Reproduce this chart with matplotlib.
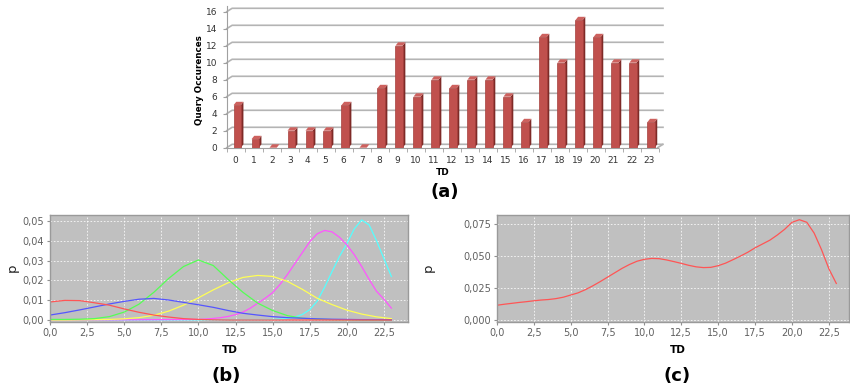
import matplotlib
matplotlib.use("Agg")
import matplotlib.pyplot as plt
import numpy as np
from matplotlib.ticker import FuncFormatter, MultipleLocator

# ---------------- data ----------------
# (a) query occurrences per TD
td_cats = list(range(24))
occurrences = [5, 1, 0, 2, 2, 2, 5, 0, 7, 12, 6, 8, 7, 8, 8, 6, 3, 13, 10, 15, 13, 10, 10, 3]

# (b) component densities
td_int = list(range(24))
red_p = [0.0091, 0.0099, 0.0098, 0.0087, 0.0075, 0.0056, 0.0039, 0.0025, 0.0015, 0.0007,
         0.0003, 0.0001, 0.0, 0.0, 0.0, 0.0, 0.0, 0.0, 0.0, 0.0, 0.0, 0.0, 0.0, 0.0]
blue_p = [0.0025, 0.0037, 0.0051, 0.0066, 0.0081, 0.0094, 0.0105, 0.0109, 0.0101, 0.0089,
          0.0077, 0.0064, 0.0048, 0.0034, 0.0025, 0.0017, 0.0012, 0.0009, 0.0006, 0.0004,
          0.0003, 0.0002, 0.0002, 0.0001]
green_p = [0.0003, 0.0003, 0.0004, 0.0007, 0.0017, 0.0040, 0.0080, 0.0140, 0.0210, 0.0270,
           0.0303, 0.0275, 0.0205, 0.0140, 0.0085, 0.0048, 0.0022, 0.0009, 0.0004, 0.0002,
           0.0001, 0.0, 0.0, 0.0]
yellow_p = [0.0, 0.0, 0.0001, 0.0002, 0.0003, 0.0006, 0.0012, 0.0024, 0.0045, 0.0075,
            0.0112, 0.0152, 0.0188, 0.0215, 0.0225, 0.0220, 0.0195, 0.0155, 0.0110, 0.0078,
            0.0050, 0.0030, 0.0016, 0.0007]
td_magenta = [0, 5, 10, 10.5, 11, 11.5, 12, 12.5, 13, 13.5, 14, 14.5, 15, 15.5, 16, 16.5, 17,
              17.5, 18, 18.5, 19, 19.5, 20, 20.5, 21, 21.5, 22, 22.5, 23]
magenta_p = [0.0, 0.0001, 0.0003, 0.0005, 0.0008, 0.0012, 0.0018, 0.0027, 0.0040, 0.0060,
             0.0085, 0.0110, 0.0138, 0.0180, 0.0230, 0.0285, 0.0340, 0.0395, 0.0435, 0.0452,
             0.0445, 0.0418, 0.0380, 0.0330, 0.0270, 0.0205, 0.0145, 0.0105, 0.0060]
td_cyan = [0, 14, 14.5, 15, 15.5, 16, 16.5, 17, 17.5, 18, 18.5, 19, 19.5, 20, 20.5, 21,
           21.5, 22, 22.5, 23]
cyan_p = [0.0, 0.0001, 0.0002, 0.0003, 0.0005, 0.0008, 0.0015, 0.0028, 0.0052, 0.0095,
          0.0165, 0.0244, 0.0320, 0.0385, 0.0460, 0.0505, 0.0480, 0.0400, 0.0310, 0.0220]

# (c) mixture density
td_mix = [0, 0.5, 1, 1.5, 2, 2.5, 3, 3.5, 4, 4.5, 5, 5.5, 6, 6.5, 7, 7.5, 8, 8.5, 9, 9.5,
          10, 10.5, 11, 11.5, 12, 12.5, 13, 13.5, 14, 14.5, 15, 15.5, 16, 16.5, 17, 17.5,
          18, 18.5, 19, 19.5, 20, 20.5, 21, 21.5, 22, 22.5, 23]
mix_p = [0.0115, 0.0123, 0.0130, 0.0137, 0.0143, 0.0150, 0.0156, 0.0160, 0.0167, 0.0178,
         0.0195, 0.0212, 0.0237, 0.0267, 0.0300, 0.0335, 0.0370, 0.0405, 0.0435, 0.0460,
         0.0475, 0.0482, 0.0480, 0.0470, 0.0457, 0.0443, 0.0428, 0.0416, 0.0410, 0.0412,
         0.0425, 0.0445, 0.0472, 0.0500, 0.0530, 0.0565, 0.0595, 0.0625, 0.0665, 0.0710,
         0.0765, 0.0785, 0.0765, 0.0680, 0.0550, 0.0400, 0.0286]

# ---------------- figure ----------------
W, H = 850, 388
fig = plt.figure(figsize=(W / 100, H / 100), dpi=100)
fig.patch.set_facecolor("white")


def px_axes(left, right, top, bottom):
    return fig.add_axes([left / W, 1 - bottom / H, (right - left) / W, (bottom - top) / H])


# ---------- (a) ----------
ax = px_axes(226.7, 663, 6, 147.7)
ax.set_xlim(-0.5, 23.75)
ax.set_ylim(0, 16.67)
ax.patch.set_alpha(0)
grid_c = "#b4b4b4"
dy = 0.4
for t in range(0, 17, 2):
    ax.plot([-0.5, -0.2, 23.75], [t, t + dy, t + dy], color=grid_c, lw=1.2, zorder=0,
            clip_on=False)
ax.plot([23.45, 23.75], [0, dy], color=grid_c, lw=1.2, zorder=0)

x = np.array(td_cats, dtype=float)
v = np.array(occurrences, dtype=float)
front_l, front_r, depth = -0.12, 0.28, 0.15
ax.bar(x + (front_l + front_r) / 2, v, width=front_r - front_l, color="#c0504d",
       edgecolor="#a5403d", linewidth=0.5, zorder=3)
for xi, vi in zip(x, v):
    ax.fill([xi + front_r, xi + front_r + depth, xi + front_r + depth, xi + front_r],
            [0, dy, vi + dy, vi], color="#7f2a27", zorder=2, lw=0)
    ax.fill([xi + front_l, xi + front_r, xi + front_r + depth, xi + front_l + depth],
            [vi, vi, vi + dy, vi + dy], color="#cd615e", zorder=4, lw=0)

for s in ["top", "right"]:
    ax.spines[s].set_visible(False)
ax.spines["left"].set_color("#a0a0a0")
ax.spines["bottom"].set_color("#a0a0a0")
ax.spines["bottom"].set_bounds(-0.5, 23.45)
ax.set_yticks(range(0, 17, 2))
ax.set_xticks(td_cats)
ax.set_xticks(np.arange(-0.5, 23.6, 1), minor=True)
ax.tick_params(axis="x", which="major", length=0, pad=6, labelsize=6.5, colors="#333333")
ax.tick_params(axis="x", which="minor", length=3, color="#a0a0a0")
ax.tick_params(axis="y", length=3, pad=4, labelsize=6.5, colors="#333333", color="#a0a0a0")
fig.text(200 / W, 1 - 80 / H, "Query Occurences", rotation=90, ha="center", va="center",
         fontsize=6.3, fontweight="bold")
fig.text(443 / W, 1 - 172.5 / H, "TD", ha="center", va="center", fontsize=6.5,
         fontweight="bold")
fig.text(445 / W, 1 - 192 / H, "(a)", ha="center", va="center", fontsize=13,
         fontweight="bold")


def style_jfree(ax):
    ax.set_facecolor("#c0c0c0")
    for s in ax.spines.values():
        s.set_color("#9a9a9a")
        s.set_linewidth(1.0)
    ax.grid(True, color="white", linestyle=(0, (2, 2)), linewidth=0.6, alpha=0.9)
    ax.set_axisbelow(True)
    ax.tick_params(length=2, labelsize=7, colors="#606060", color="#909090", pad=2)
    ax.xaxis.set_major_locator(MultipleLocator(2.5))
    ax.xaxis.set_major_formatter(FuncFormatter(lambda val, pos: f"{val:.1f}".replace(".", ",")))


# ---------- (b) ----------
bx = px_axes(49.5, 408, 215, 322)
style_jfree(bx)
bx.set_xlim(-0.03, 24.12)
bx.set_ylim(-0.001, 0.053)
bx.yaxis.set_major_locator(MultipleLocator(0.01))
bx.yaxis.set_major_formatter(FuncFormatter(lambda val, pos: f"{val:.2f}".replace(".", ",")))
lw = 0.9
bx.plot(td_cyan, cyan_p, color="#55ffff", lw=lw)
bx.plot(td_magenta, magenta_p, color="#ff55ff", lw=lw)
bx.plot(td_int, yellow_p, color="#ffff55", lw=lw)
bx.plot(td_int, green_p, color="#55ff55", lw=lw)
bx.plot(td_int, blue_p, color="#5555ff", lw=lw)
bx.plot(td_int, red_p, color="#ff5555", lw=lw)
fig.text(12 / W, 1 - 268 / H, "p", rotation=90, ha="center", va="center", fontsize=9.5,
         color="#222222")
fig.text(230 / W, 1 - 350 / H, "TD", ha="center", va="center", fontsize=7.5,
         fontweight="bold")
fig.text(226 / W, 1 - 376 / H, "(b)", ha="center", va="center", fontsize=13,
         fontweight="bold")

# ---------- (c) ----------
cx = px_axes(496.5, 849, 215, 322)
style_jfree(cx)
cx.set_xlim(-0.02, 23.86)
cx.set_ylim(-0.0016, 0.0822)
cx.yaxis.set_major_locator(MultipleLocator(0.025))
cx.yaxis.set_major_formatter(FuncFormatter(lambda val, pos: f"{val:.3f}".replace(".", ",")))
cx.plot(td_mix, mix_p, color="#ff5555", lw=0.9)
fig.text(428 / W, 1 - 268 / H, "p", rotation=90, ha="center", va="center", fontsize=9.5,
         color="#222222")
fig.text(678 / W, 1 - 350 / H, "TD", ha="center", va="center", fontsize=7.5,
         fontweight="bold")
fig.text(677 / W, 1 - 376 / H, "(c)", ha="center", va="center", fontsize=13,
         fontweight="bold")

fig.savefig("out.png", dpi=100)
